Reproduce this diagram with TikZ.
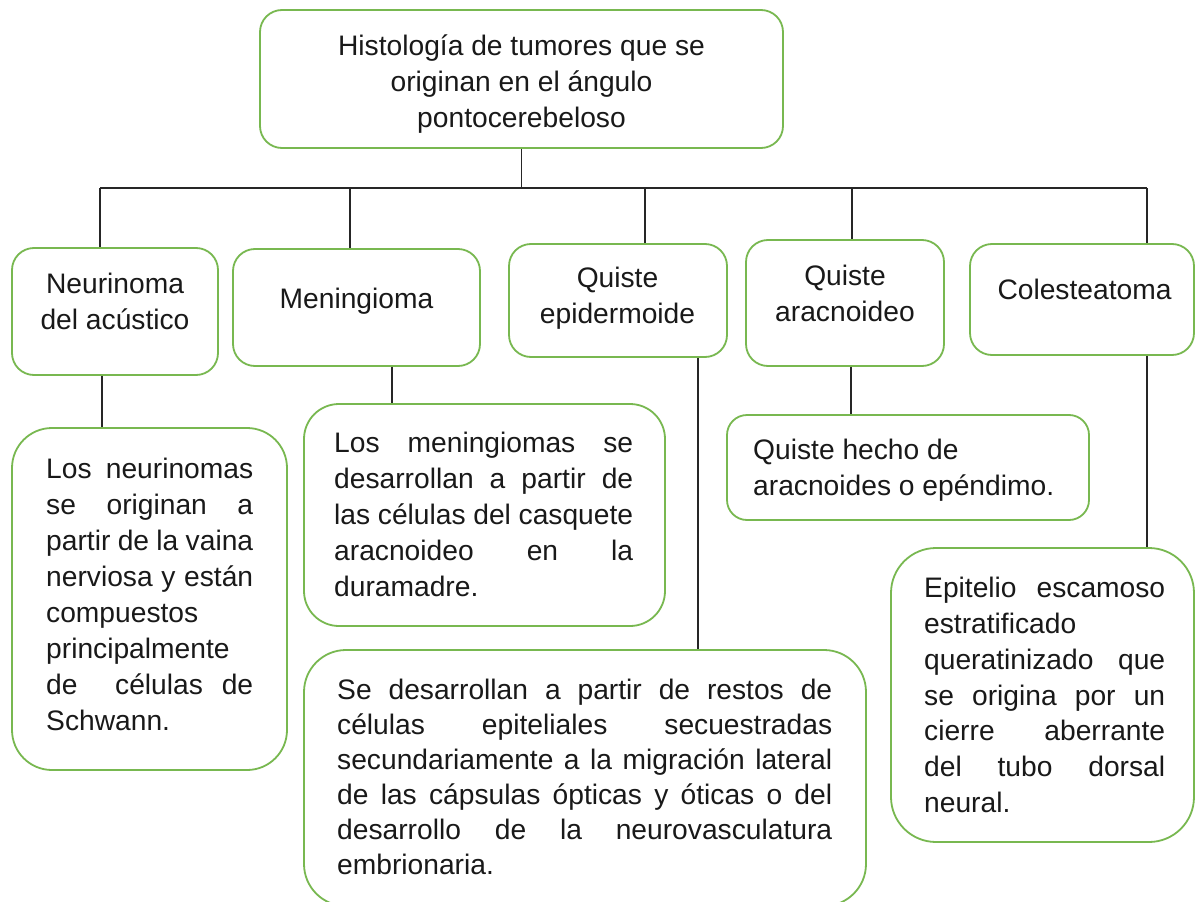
\documentclass[tikz,border=0pt]{standalone}
\usepackage{fontspec}
\setmainfont{Liberation Sans}
\definecolor{boxgreen}{RGB}{120,184,80}
\definecolor{ink}{RGB}{25,25,25}
\newcommand{\jst}[2]{\makebox[#1][s]{#2}}
\begin{document}
\begin{tikzpicture}[x=1pt,y=-1pt,
  box/.style={draw=boxgreen, line width=1.8pt, rounded corners=#1, inner sep=0pt, fill=white},
  box/.default=22pt,
  txt/.style={inner sep=0pt, text=ink, font=\fontsize{28.2}{36}\selectfont},
  link/.style={draw=black!85, line width=1.4pt}
]
\useasboundingbox[fill=white] (0,0) rectangle (1195,902);

\coordinate (bL) at (100,188);
\coordinate (bR) at (1147,188);
\coordinate (dM) at (350,188);
\coordinate (dE) at (645,188);
\coordinate (dA) at (852,188);

% level boxes
\node[box, minimum width=523pt, minimum height=138pt] (top) at (521.5,79) {};
\node[box, minimum width=206pt, minimum height=127pt] (neur) at (115,311.5) {};
\node[box, minimum width=247pt, minimum height=117pt] (men) at (356.5,307.5) {};
\node[box, minimum width=218pt, minimum height=113pt] (epi) at (618,300.5) {};
\node[box, minimum width=198pt, minimum height=126pt] (ara) at (845,303) {};
\node[box, minimum width=224pt, minimum height=111pt] (col) at (1082,299.5) {};

\node[box=40pt, minimum width=275pt, minimum height=342pt] (dneur) at (149.5,599) {};
\node[box=35pt, minimum width=361pt, minimum height=222pt] (dmen) at (484.5,515) {};
\node[box=20pt, minimum width=362pt, minimum height=105pt] (dara) at (908,467.5) {};
\node[box=45pt, minimum width=303pt, minimum height=294pt] (dcol) at (1042.5,695) {};
\node[box=42pt, minimum width=562pt, minimum height=256pt] (depi) at (585,778) {};

% tree connectors
\draw[link] (top.south) -- (top.south |- bL);
\draw[link] (bL) -- (bR);
\draw[link] (bL) -- (bL |- neur.north);
\draw[link] (dM) -- (dM |- men.north);
\draw[link] (dE) -- (dE |- epi.north);
\draw[link] (dA) -- (dA |- ara.north);
\draw[link] (bR) -- (bR |- col.north);

\draw[link] ([xshift=-13pt]neur.south) -- ([xshift=-13pt]neur.south |- dneur.north);
\draw[link] ([xshift=35.5pt]men.south) -- ([xshift=35.5pt]men.south |- dmen.north);
\draw[link] ([xshift=80pt]epi.south) -- ([xshift=80pt]epi.south |- depi.north);
\draw[link] ([xshift=6pt]ara.south) -- ([xshift=6pt]ara.south |- dara.north);
\draw[link] ([xshift=65pt]col.south) -- ([xshift=65pt]col.south |- dcol.north);

% header texts
\node[txt, align=center, anchor=north] (ttop) at (521.5,29.8)
  {\strut Histología de tumores que se\\originan en el ángulo\\pontocerebeloso};
\node[txt, align=center, anchor=north] (tneur) at (115,267.8)
  {\strut Neurinoma\\del acústico};
\node[txt, align=center, anchor=north] (tmen) at (356.5,282.8)
  {\strut Meningioma};
\node[txt, align=center, anchor=north] (tepi) at (617.5,261.8)
  {\strut Quiste\\epidermoide};
\node[txt, align=center, anchor=north] (tara) at (845,259.8)
  {\strut Quiste\\aracnoideo};
\node[txt, align=center, anchor=north] (tcol) at (1084.5,273.8)
  {\strut Colesteatoma};

% detail texts
\node[txt, align=left, anchor=north west] (tdneur) at (46,452.8)
  {\strut\jst{207pt}{Los neurinomas}\\
   \jst{207pt}{se originan a}\\
   \jst{207pt}{partir de la vaina}\\
   \jst{207pt}{nerviosa y están}\\
   compuestos\\
   principalmente\\
   \jst{207pt}{de \ células de}\\
   Schwann.};
\node[txt, align=left, anchor=north west] (tdmen) at (334,426.8)
  {\strut\jst{299pt}{Los meningiomas se}\\
   \jst{299pt}{desarrollan a partir de}\\
   \jst{299pt}{las células del casquete}\\
   \jst{299pt}{aracnoideo en la}\\
   duramadre.};
\node[txt, align=left, anchor=north west] (tdara) at (753,433.8)
  {\strut Quiste hecho de\\aracnoides o epéndimo.};
\node[txt, align=left, anchor=north west, font=\fontsize{28.2}{35.7}\selectfont] (tdcol) at (924,572.8)
  {\strut\jst{241pt}{Epitelio escamoso}\\
   estratificado\\
   \jst{241pt}{queratinizado que}\\
   \jst{241pt}{se origina por un}\\
   \jst{241pt}{cierre aberrante}\\
   \jst{241pt}{del tubo dorsal}\\
   neural.};
\node[txt, align=left, anchor=north west, font=\fontsize{28.2}{35}\selectfont] (tdepi) at (337,674.8)
  {\strut\jst{495pt}{Se desarrollan a partir de restos de}\\
   \jst{495pt}{células epiteliales secuestradas}\\
   \jst{495pt}{secundariamente a la migración lateral}\\
   \jst{495pt}{de las cápsulas ópticas y óticas o del}\\
   \jst{495pt}{desarrollo de la neurovasculatura}\\
   embrionaria.};
\end{tikzpicture}
\end{document}
